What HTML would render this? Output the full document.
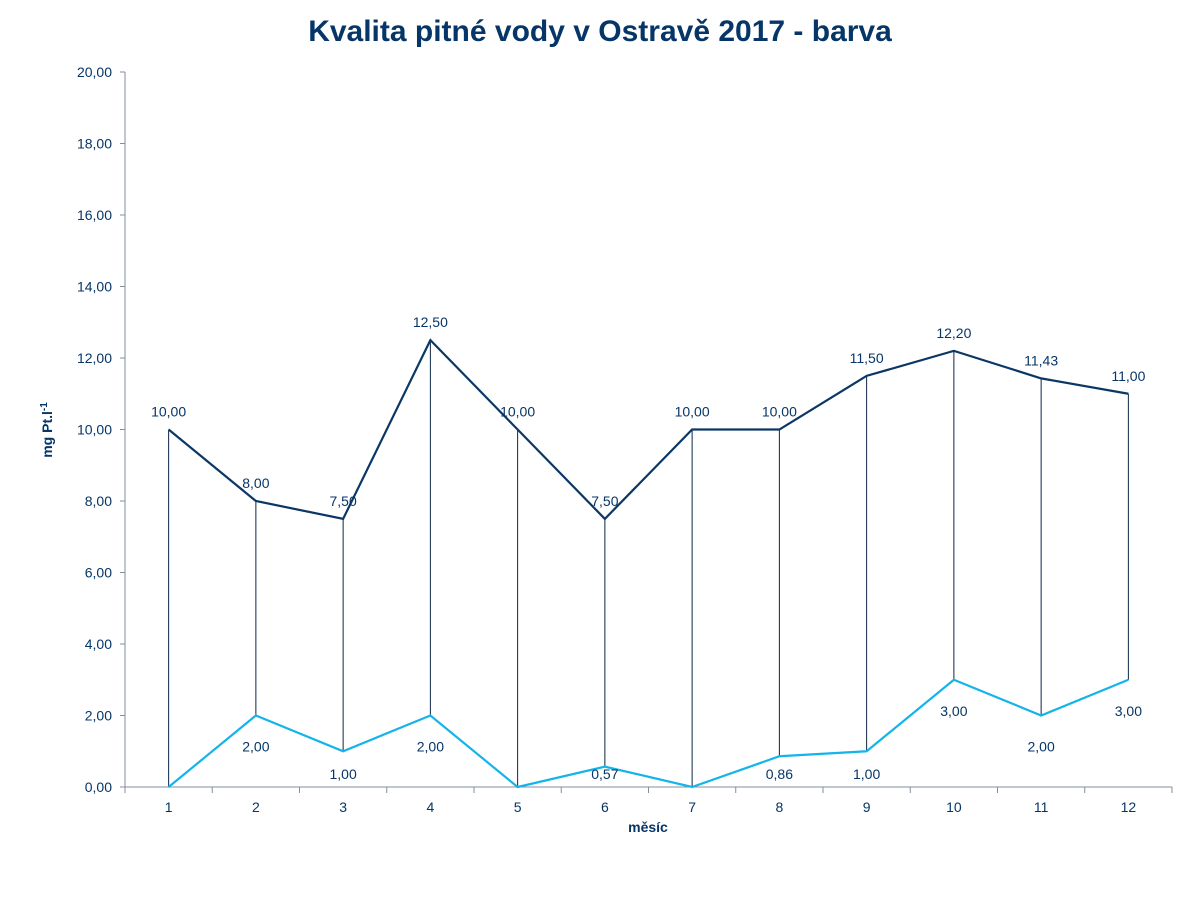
<!DOCTYPE html>
<html><head><meta charset="utf-8"><style>
body{margin:0;background:#fff;}
svg{display:block;font-family:"Liberation Sans",sans-serif;}
</style></head><body>
<svg id="chart" width="1200" height="900">
<text x="600" y="41" text-anchor="middle" font-size="30" font-weight="bold" fill="#063567">Kvalita pitné vody v Ostravě 2017 - barva</text>
<g id="axes"></g>
<g id="marks"></g>
<text x="0" y="0" transform="translate(52,430) rotate(-90)" text-anchor="middle" font-size="14" font-weight="bold" fill="#063567">mg Pt.l<tspan dy="-5" font-size="10">-1</tspan></text>
<text x="648" y="832" text-anchor="middle" font-size="14" font-weight="bold" fill="#063567">měsíc</text>
</svg>
<script>
const categories=["1","2","3","4","5","6","7","8","9","10","11","12"];
const maxValues=[10,8,7.5,12.5,10,7.5,10,10,11.5,12.2,11.43,11];
const minValues=[0,2,1,2,0,0.57,0,0.86,1,3,2,3];
const yTicks=[0,2,4,6,8,10,12,14,16,18,20];
const NS="http://www.w3.org/2000/svg";
const X0=125,X1=1172,Y0=787,Y1=72,YMAX=20;
const bw=(X1-X0)/categories.length;
function xS(i){return X0+bw*(i+0.5);}
function yS(v){return Y0-(v/YMAX)*(Y0-Y1);}
function mk(tag,attrs,parent){const e=document.createElementNS(NS,tag);for(const k in attrs)e.setAttribute(k,attrs[k]);parent.appendChild(e);return e;}
function fmt(v){return v.toFixed(2).replace('.',',');}
const axes=document.getElementById('axes'),marks=document.getElementById('marks');
let yl=mk('line',{x1:X0,y1:Y1,x2:X0,y2:Y0,stroke:'#868e9c','stroke-width':1},axes);


let xl=mk('line',{x1:X0,y1:Y0,x2:X1,y2:Y0,stroke:'#868e9c','stroke-width':1},axes);


yTicks.forEach(v=>{
  mk('line',{x1:X0-5,y1:yS(v),x2:X0,y2:yS(v),stroke:'#868e9c'},axes);
  const t=mk('text',{x:X0-13,y:yS(v)+5,'text-anchor':'end','font-size':14,fill:'#063567'},axes);
  t.textContent=fmt(v);
  
  
});
for(let i=0;i<=categories.length;i++){mk('line',{x1:X0+bw*i,y1:Y0,x2:X0+bw*i,y2:Y0+6,stroke:'#868e9c'},axes);}
categories.forEach((c,i)=>{
  const t=mk('text',{x:xS(i),y:Y0+25,'text-anchor':'middle','font-size':14,fill:'#063567'},axes);
  t.textContent=c;
  
  
});
categories.forEach((c,i)=>{
  const l=mk('line',{x1:xS(i),y1:yS(maxValues[i]),x2:xS(i),y2:yS(minValues[i]),stroke:'#0b2747','stroke-width':1},marks);
  
  
});
const maxP=mk('polyline',{points:maxValues.map((v,i)=>xS(i)+','+yS(v)).join(' '),fill:'none',stroke:'#0b3766','stroke-width':2.2},marks);


const minP=mk('polyline',{points:minValues.map((v,i)=>xS(i)+','+yS(v)).join(' '),fill:'none',stroke:'#14b4ea','stroke-width':2.2},marks);


maxValues.forEach((v,i)=>{
  const t=mk('text',{x:xS(i),y:yS(v)-13,'text-anchor':'middle','font-size':14,fill:'#063567'},marks);
  t.textContent=fmt(v);
  
  
});
minValues.forEach((v,i)=>{
  if(v===0)return;
  const t=mk('text',{x:xS(i),y:Math.min(yS(v)+36,779),'text-anchor':'middle','font-size':14,fill:'#063567'},marks);
  t.textContent=fmt(v);
  
  
});
</script>
</body></html>
